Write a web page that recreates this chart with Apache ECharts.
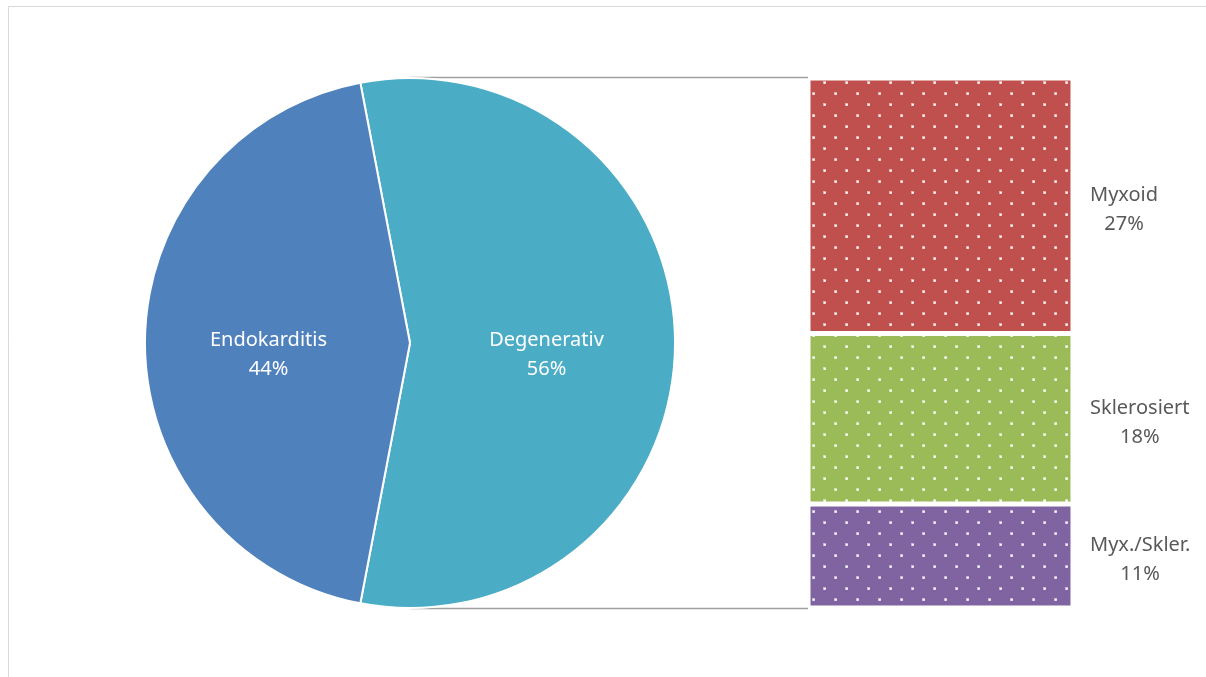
<!DOCTYPE html>
<html>
<head>
<meta charset="utf-8">
<script src="https://cdn.jsdelivr.net/npm/echarts@6/dist/echarts.min.js"></script>
<style>
  html, body { margin: 0; padding: 0; background: #fff; overflow: hidden; }
  #chart { width: 1206px; height: 677px; }
</style>
</head>
<body>
<div id="chart"></div>
<script>
// Main split of cases (percent)
const pieNames = ['Degenerativ', 'Endokarditis'];
const pieValues = [56, 44];
const pieColors = ['#4BACC6', '#4F81BD'];

// Breakdown of the degenerative share (percent of all cases), bottom to top
const barNames = ['Myx./Skler.', 'Sklerosiert', 'Myxoid'];
const barValues = [11, 18, 27];
const barColors = ['#8064A2', '#9BBB59', '#C0504D'];

const PIE_CX = 410, PIE_CY = 343, PIE_R = 265;
const BAR_LEFT = 808, BAR_TOP = 78, BAR_W = 265, BAR_H = 530;
const LABEL_GAP = 17;

const FONT_FAMILY = '"Noto Sans", "Open Sans", sans-serif';
const FONT_SIZE = 20;
const LINE_HEIGHT = 29;

// Dotted fill: small white dots on a staggered 22px lattice
function dotPattern(color) {
  const c = document.createElement('canvas');
  c.width = 22; c.height = 22;
  const g = c.getContext('2d');
  g.fillStyle = color;
  g.fillRect(0, 0, 22, 22);
  g.fillStyle = 'rgba(255,255,255,0.55)';
  g.fillRect(9, 15, 3, 3);
  g.fillRect(20, 4, 3, 3);
  g.fillRect(-2, 4, 3, 3);
  g.fillStyle = '#ffffff';
  g.fillRect(10, 16, 1.6, 1.6);
  g.fillRect(21, 5, 1.6, 1.6);
  g.fillRect(-1, 5, 1.6, 1.6);
  return { image: c, repeat: 'repeat' };
}

// Width of the widest line, so each two-line label is centred in its own box
const measureCtx = document.createElement('canvas').getContext('2d');
measureCtx.font = FONT_SIZE + 'px ' + FONT_FAMILY;
function blockWidth(lines) {
  return Math.max.apply(null, lines.map(t => measureCtx.measureText(t).width));
}

const barTotal = barValues.reduce((a, b) => a + b, 0);
// First slice is centred on the right-hand side, facing the bar
const startAngle = 90 + (pieValues[0] * 3.6 - 180) / 2;

const chart = echarts.init(document.getElementById('chart'), null, { renderer: 'canvas' });

const barSeries = barNames.map((name, i) => {
  const text = [name, barValues[i] + '%'];
  return {
    type: 'bar',
    name: name,
    stack: 'deg',
    barWidth: '100%',
    silent: true,
    data: [barValues[i]],
    itemStyle: {
      color: dotPattern(barColors[i]),
      borderColor: '#ffffff',
      borderWidth: 2.5
    },
    label: {
      show: true,
      position: 'right',
      distance: LABEL_GAP + blockWidth(text) / 2,
      align: 'center',
      offset: [0, 4],
      color: '#595959',
      fontFamily: FONT_FAMILY,
      fontSize: FONT_SIZE,
      lineHeight: LINE_HEIGHT,
      formatter: text.join('\n')
    }
  };
});

const pieLabelOffsets = [[1, 12], [-6, 12]];

chart.setOption({
  animation: false,
  backgroundColor: '#ffffff',
  grid: { left: BAR_LEFT, top: BAR_TOP, width: BAR_W, height: BAR_H },
  xAxis: { type: 'category', data: ['Degenerativ'], show: false },
  yAxis: { type: 'value', min: 0, max: barTotal, show: false },
  series: [
    {
      type: 'pie',
      center: [PIE_CX, PIE_CY],
      radius: PIE_R,
      startAngle: startAngle,
      clockwise: true,
      silent: true,
      z: 3,
      data: pieNames.map((n, i) => ({
        name: n,
        value: pieValues[i],
        itemStyle: { color: pieColors[i] },
        label: { offset: pieLabelOffsets[i] }
      })),
      itemStyle: { borderColor: '#ffffff', borderWidth: 2 },
      label: {
        show: true,
        position: 'inside',
        color: '#ffffff',
        fontFamily: FONT_FAMILY,
        fontSize: FONT_SIZE,
        lineHeight: LINE_HEIGHT,
        formatter: '{b}\n{c}%'
      },
      labelLine: { show: false }
    }
  ].concat(barSeries)
});

// Connector lines from the top and bottom of the pie to the bar's corners
const yTop = chart.convertToPixel({ yAxisIndex: 0 }, barTotal);
const yBot = chart.convertToPixel({ yAxisIndex: 0 }, 0);

chart.setOption({
  graphic: [
    {
      type: 'rect', z: 0, silent: true,
      shape: { x: 8.5, y: 6.5, width: 1300, height: 800 },
      style: { fill: 'none', stroke: '#d9d9d9', lineWidth: 1 }
    },
    {
      type: 'line', z: 1, silent: true,
      shape: { x1: PIE_CX, y1: PIE_CY - PIE_R - 0.5, x2: BAR_LEFT, y2: yTop - 0.5 },
      style: { stroke: '#a0a0a0', lineWidth: 1.5 }
    },
    {
      type: 'line', z: 1, silent: true,
      shape: { x1: PIE_CX, y1: PIE_CY + PIE_R + 0.5, x2: BAR_LEFT, y2: yBot + 0.5 },
      style: { stroke: '#a0a0a0', lineWidth: 1.5 }
    }
  ]
});
</script>
</body>
</html>
